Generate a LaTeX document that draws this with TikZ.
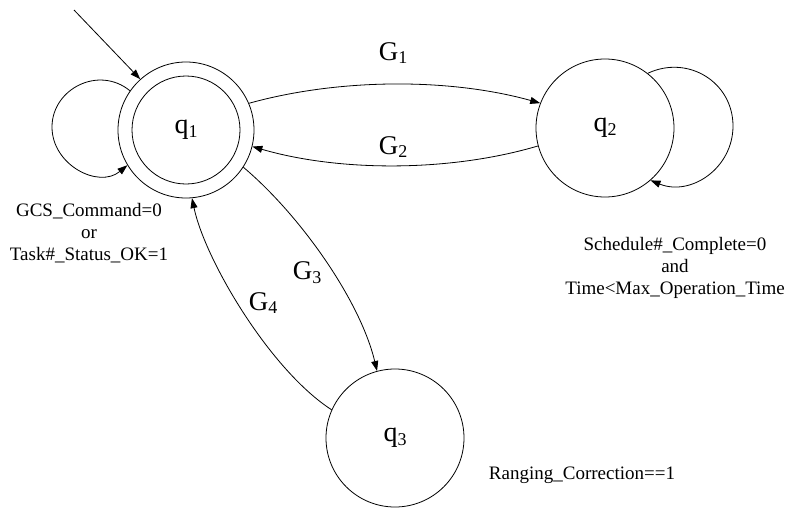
\documentclass[tikz,border=0pt]{standalone}
\usepackage{fontspec}
\setmainfont{Liberation Serif}
\usetikzlibrary{arrows.meta}
% state name with a lowered, smaller index
\newcommand\withidx[2]{#1\raisebox{-0.3ex}{\fontsize{18}{18}\selectfont #2}}
\begin{document}
\begin{tikzpicture}[x=1pt,y=-1pt,line width=0.8pt,
  stcircle/.style={circle,draw,inner sep=0pt,minimum size=#1},
  statefont/.style={font=\fontsize{28}{28}\selectfont},
  glabel/.style={font=\fontsize{27}{27}\selectfont,inner sep=0pt},
  note/.style={align=center,inner sep=0pt,font=\fontsize{19}{22}\selectfont},
  arr/.style={-{Triangle[length=10pt,width=7pt]}}]
\useasboundingbox (0,0) rectangle (785,509);

% states
\node[stcircle=136pt] (q1) at (186,130) {};
\node[stcircle=108pt,statefont] (q1in) at (q1) {\withidx{q}{1}};
\node[stcircle=138pt,statefont] (q2) at (605,128) {\withidx{q}{2}};
\node[stcircle=138pt,statefont] (q3) at (395,438) {\withidx{q}{3}};

% initial arrow
\coordinate (init) at (74,10);
\draw[arr] (init) -- (q1.132);

% transitions between states
\draw[arr] (q1.23) .. controls (340,78) and (450,78) .. (q2.159);
\draw[arr] (q2.195) .. controls (450,172) and (340,172) .. (q1.-14);
\draw[arr] (q1.-33) .. controls (300,215) and (360,300) .. (q3.105);
\draw[arr] (q3.156) .. controls (270,370) and (205,260) .. (q1.-85);

% self loops
\coordinate (l1) at (52,127);
\draw[arr] (q1.145) .. controls (98.6,65) and (52,89) .. (l1)
           .. controls (52,165) and (98.6,189) .. (q1.211);
\coordinate (l2) at (733,126);
\draw[arr] (q2.52) .. controls (687.8,54.4) and (733,82) .. (l2)
           .. controls (733,168) and (691,196.7) .. (q2.-49);

% transition labels
\node[glabel] (g1) at (393,53) {\withidx{G}{1}};
\node[glabel] (g2) at (393,147) {\withidx{G}{2}};
\node[glabel] (g3) at (307,273) {\withidx{G}{3}};
\node[glabel] (g4) at (263,303) {\withidx{G}{4}};

% loop conditions
\node[note] (c1) at (89,233) {GCS\_Command=0\\or\\Task\#\_Status\_OK=1};
\node[note] (c2) at (675,268) {Schedule\#\_Complete=0\\and\\Time<Max\_Operation\_Time};
\node[note] (c3) at (582,475) {Ranging\_Correction==1};
\end{tikzpicture}
\end{document}
